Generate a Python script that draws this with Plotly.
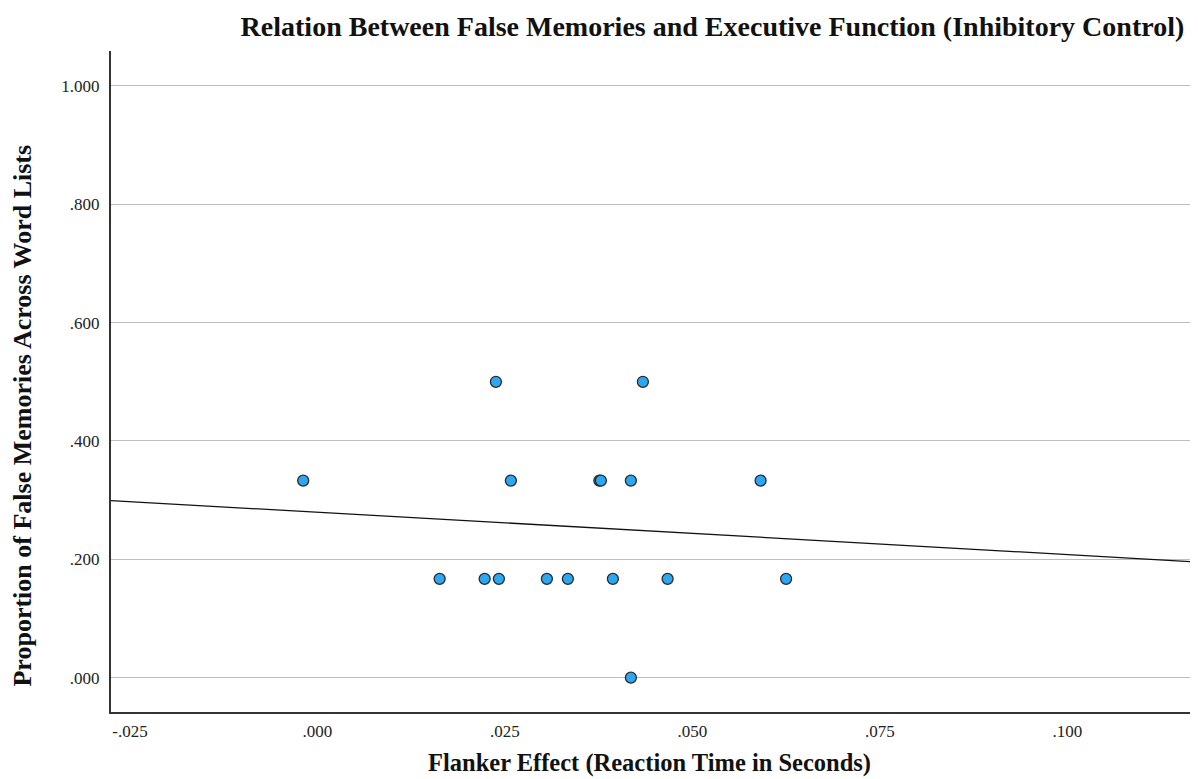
import numpy as np
import plotly.graph_objects as go

# Data (Flanker effect in s, proportion of false memories)
flanker_effect = [0.0238, 0.0434, -0.0019, 0.0258, 0.0376, 0.0378, 0.0418, 0.0591,
                  0.0163, 0.0223, 0.0242, 0.0306, 0.0334, 0.0394, 0.0467, 0.0625, 0.0418]
false_memory = [0.500, 0.500, 0.333, 0.333, 0.333, 0.333, 0.333, 0.333,
                0.167, 0.167, 0.167, 0.167, 0.167, 0.167, 0.167, 0.167, 0.000]

x_tickvals = [-0.025, 0.0, 0.025, 0.050, 0.075, 0.100]
x_ticktext = ["-.025", ".000", ".025", ".050", ".075", ".100"]
y_tickvals = [0.0, 0.2, 0.4, 0.6, 0.8, 1.0]
y_ticktext = [".000", ".200", ".400", ".600", ".800", "1.000"]

title_text = "Relation Between False Memories and Executive Function (Inhibitory Control)"
x_title = "Flanker Effect (Reaction Time in Seconds)"
y_title = "Proportion of False Memories Across Word Lists"

x_range = [-0.02753, 0.1185]
y_range = [-0.058, 1.059]

# Linear fit line across the whole x range
slope, intercept = np.polyfit(flanker_effect, false_memory, 1)
fit_x = np.array(x_range)
fit_y = intercept + slope * fit_x

FONT = "Liberation Serif, Times New Roman, serif"

fig = go.Figure()
fig.add_trace(go.Scatter(
    x=fit_x, y=fit_y, mode="lines",
    line=dict(color="#111111", width=1.3),
    hoverinfo="skip", showlegend=False,
))
fig.add_trace(go.Scatter(
    x=flanker_effect, y=false_memory, mode="markers",
    marker=dict(size=11, color="#2EA7F2", line=dict(color="#2B2B2B", width=1.3)),
    showlegend=False, cliponaxis=False,
))

fig.update_layout(
    width=1198, height=779,
    paper_bgcolor="white", plot_bgcolor="white",
    margin=dict(l=103, r=0, t=43, b=75),
    font=dict(family=FONT, color="#222222", size=17),
    title=dict(
        text="<b>" + title_text + "</b>",
        x=0.588, xanchor="center", y=0.977, yanchor="middle",
        font=dict(family=FONT, size=28, color="#111111"),
    ),
    xaxis=dict(
        range=x_range, tickvals=x_tickvals, ticktext=x_ticktext,
        showgrid=False, zeroline=False, automargin=False,
        showline=True, linecolor="#333333", linewidth=2,
        ticks="", ticklabelstandoff=3,
        tickfont=dict(family=FONT, size=17, color="#222222"),
    ),
    yaxis=dict(
        range=y_range, tickvals=y_tickvals, ticktext=y_ticktext,
        showgrid=True, gridcolor="#BDBDBD", gridwidth=1, zeroline=False, automargin=False,
        showline=True, linecolor="#333333", linewidth=2,
        ticks="", ticklabelstandoff=6,
        tickfont=dict(family=FONT, size=17, color="#222222"),
    ),
    annotations=[
        dict(text="<b>" + x_title + "</b>", xref="paper", yref="paper",
             x=0.492, y=-0.0772, xanchor="center", yanchor="middle", showarrow=False,
             font=dict(family=FONT, size=24.5, color="#111111")),
        dict(text="<b>" + y_title + "</b>", xref="paper", yref="paper",
             x=-0.081, y=0.449, xanchor="center", yanchor="middle", showarrow=False,
             textangle=-90, font=dict(family=FONT, size=26, color="#111111")),
    ],
)

fig.write_html("out.html")
